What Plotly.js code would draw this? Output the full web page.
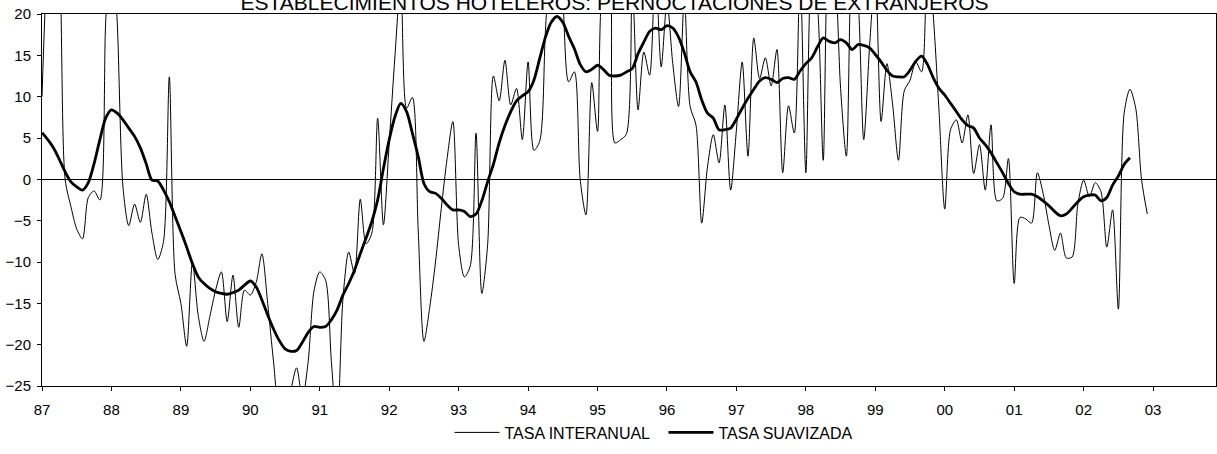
<!DOCTYPE html>
<html>
<head>
<meta charset="utf-8">
<script src="https://cdn.plot.ly/plotly-3.0.1.min.js"></script>
<style>
  html, body { margin: 0; padding: 0; background: #fff; }
  #chart { width: 1217px; height: 454px; }
</style>
</head>
<body>
<div id="chart"></div>
<script>
// Monthly series, starting January 1987
var startYear = 1987;

var tasaInteranual = [
  10, 27, 33, 27, 0, -3.3, -6.0, -7.2, -2.2, -1.4, -2.5, 19,
  30, 19, -1, -5.6, -3, -5.2, -1.8, -6.5, -9.7, -7.5, 12.4, -11.5,
  -15, -20.2, -10, -16.5, -19.6, -16.6, -13.4, -11.2, -17.2, -11.6, -17.9, -13.4,
  -14, -12.5, -9, -15, -22, -28, -29, -25.5, -22.8, -26.5, -22, -13.5,
  -11.2, -12.2, -22, -30, -14.5, -8.8, -11.4, -2.4, -7.8, -6.5, 7.4, -5.5,
  4.4, 15, 24, 8.6, 9.9, -6, -19.6, -15.5, -10, -3.5, 2.5, 7.0,
  -8, -11.8, -10.5, 5.6, -13.8, -8, 12.5, 9.5, 14.4, 9.0, 11.0, 4.8,
  14.2, 3.5, 4.6, 18, 28, 30, 22, 11.8, 13, 0, -4.3, 11.7,
  5.8, 24, 25, 4.4, 4.8, 5.5, 24, 8.4, 15.4, 12.6, 26, 13.6,
  21.5, 14, 8.8, 22, 8.8, 6.6, -5.3, 1.5, 5.4, 2.0, 9.0, -1.3,
  6, 14.2, 2.8, 17.1, 12.2, 14.7, 11.3, 15.7, 0.8, 8.9, 5.6, 25,
  0.8, 25, 21, 2.3, 28, 25, 11, 2.8, 27, 22, 4.8, 16,
  25, 7.0, 14.0, 9, 2.3, 10.7, 12, 14.2, 13, 28, 20, 8.4,
  -3.6, 6.0, 7.2, 4.4, 7.8, 0.7, 4.2, -1.3, 6.6, -2.6, -2.3, 2.5,
  -12.6, -4.6, -4.8, -5.3, 0.8, -1.7, -5.5, -8.6, -6.5, -9.5, -9.4, -3,
  -0.1, -2.1, -0.4, -1.5, -8.2, -3.7, -15.7, 8, 10.9, 8.6, 0, -4.2
];

var tasaSuavizada = [
  5.65, 4.8, 3.8, 2.4, 0.9, -0.3, -0.9, -1.3, -0.4, 1.9, 4.8, 7.4,
  8.4, 8.0, 7.2, 6.2, 5.2, 3.8, 1.9, -0.1, -0.2, -1.3, -2.7, -4.5,
  -6.3, -8.2, -10.2, -11.8, -12.6, -13.2, -13.6, -13.8, -13.9, -13.7, -13.4, -12.8,
  -12.3, -13.0, -14.6, -16.4, -18.1, -19.5, -20.5, -20.8, -20.7, -19.7, -18.5, -17.8,
  -17.9, -17.8, -17.0, -15.8, -14.0, -12.6, -11.0, -9.0, -7.1, -5.1, -2.5, 1.3,
  4.8, 7.6, 9.2, 8.2, 5.6, 2.8, -0.5, -1.5, -1.7, -2.3, -3.1, -3.7,
  -3.7, -3.9, -4.5, -4.2, -2.6, -0.3, 1.8, 4.4, 6.5, 8.2, 9.5, 10.1,
  10.6, 12.0, 14.6, 17.2, 19.0, 19.7, 19.0, 17.3, 15.8, 13.9, 13.0, 13.3,
  13.8, 13.3, 12.6, 12.5, 12.6, 13.0, 13.4, 15.2, 16.6, 17.9, 18.3, 18.1,
  18.6, 18.3, 17.2, 15.3, 13.0, 11.8, 9.6, 8.0, 7.4, 6.0, 6.0, 6.2,
  7.3, 8.6, 9.8, 10.9, 11.9, 12.3, 12.1, 11.7, 12.2, 12.3, 12.1, 13.1,
  14.0, 14.7, 16.0, 17.1, 16.7, 16.5, 16.9, 16.5, 15.7, 16.3, 16.2, 15.9,
  15.1, 14.2, 13.2, 12.5, 12.4, 12.4, 13.2, 14.3, 14.9, 13.9, 12.3, 11.0,
  10.2, 9.2, 8.2, 7.2, 6.5, 6.2, 5.0, 4.2, 3.2, 2.0, 0.8, -0.5,
  -1.5, -1.8, -1.8, -1.8, -2.1, -2.6, -3.2, -3.9, -4.4, -4.2, -3.5, -2.7,
  -2.1, -1.9, -1.9, -2.6, -2.2, -0.7, 0.4, 1.8, 2.6
];

var yearTicks = [1987, 1988, 1989, 1990, 1991, 1992, 1993, 1994, 1995, 1996,
                 1997, 1998, 1999, 2000, 2001, 2002, 2003];
var yearLabels = ['87', '88', '89', '90', '91', '92', '93', '94', '95', '96',
                  '97', '98', '99', '00', '01', '02', '03'];

var seriesNames = ['TASA INTERANUAL', 'TASA SUAVIZADA'];
var chartTitle = 'ESTABLECIMIENTOS HOTELEROS: PERNOCTACIONES DE EXTRANJEROS';

function monthAxis(values) {
  return values.map(function (v, i) { return startYear + i / 12; });
}

var FONT = 'Arial, "Liberation Sans", Helvetica, sans-serif';

var traces = [
  {
    x: monthAxis(tasaInteranual),
    y: tasaInteranual,
    type: 'scatter',
    mode: 'lines',
    name: seriesNames[0],
    line: { color: '#000', width: 1, shape: 'spline', smoothing: 0.8 },
    hoverinfo: 'skip'
  },
  {
    x: monthAxis(tasaSuavizada),
    y: tasaSuavizada,
    type: 'scatter',
    mode: 'lines',
    name: seriesNames[1],
    line: { color: '#000', width: 2.8, shape: 'spline', smoothing: 0.8 },
    hoverinfo: 'skip'
  }
];

var layout = {
  width: 1217,
  height: 454,
  margin: { l: 42, r: 1, t: 14, b: 68 },
  paper_bgcolor: '#fff',
  plot_bgcolor: '#fff',
  font: { family: FONT, color: '#000', size: 15 },
  title: {
    text: chartTitle,
    font: { family: FONT, size: 21, color: '#000' },
    xref: 'container', x: 0.505, xanchor: 'center',
    yref: 'container', y: 0.995, yanchor: 'middle'
  },
  showlegend: true,
  legend: {
    orientation: 'h',
    x: 0.3471, xanchor: 'left',
    y: -0.125, yanchor: 'middle',
    itemwidth: 45,
    entrywidth: 154,
    entrywidthmode: 'pixels',
    font: { family: FONT, size: 16, color: '#000' },
    bgcolor: 'rgba(0,0,0,0)'
  },
  xaxis: {
    range: [1987, 2003.906],
    tickmode: 'array',
    tickvals: yearTicks,
    ticktext: yearLabels,
    ticks: 'outside',
    ticklen: 4,
    tickcolor: '#000',
    tickwidth: 1,
    showline: true,
    linecolor: '#000',
    linewidth: 1,
    mirror: true,
    showgrid: false,
    zeroline: false,
    ticklabelstandoff: 6,
    tickfont: { family: FONT, size: 15, color: '#000' }
  },
  yaxis: {
    range: [-25, 20],
    tickmode: 'linear',
    tick0: -25,
    dtick: 5,
    ticks: 'outside',
    ticklen: 4,
    tickcolor: '#000',
    tickwidth: 1,
    showline: true,
    linecolor: '#000',
    linewidth: 1,
    mirror: true,
    showgrid: false,
    zeroline: true,
    zerolinecolor: '#000',
    zerolinewidth: 1,
    ticklabelstandoff: 3,
    tickfont: { family: FONT, size: 15, color: '#000' }
  }
};

Plotly.newPlot('chart', traces, layout, { staticPlot: true, displayModeBar: false });
</script>
</body>
</html>
